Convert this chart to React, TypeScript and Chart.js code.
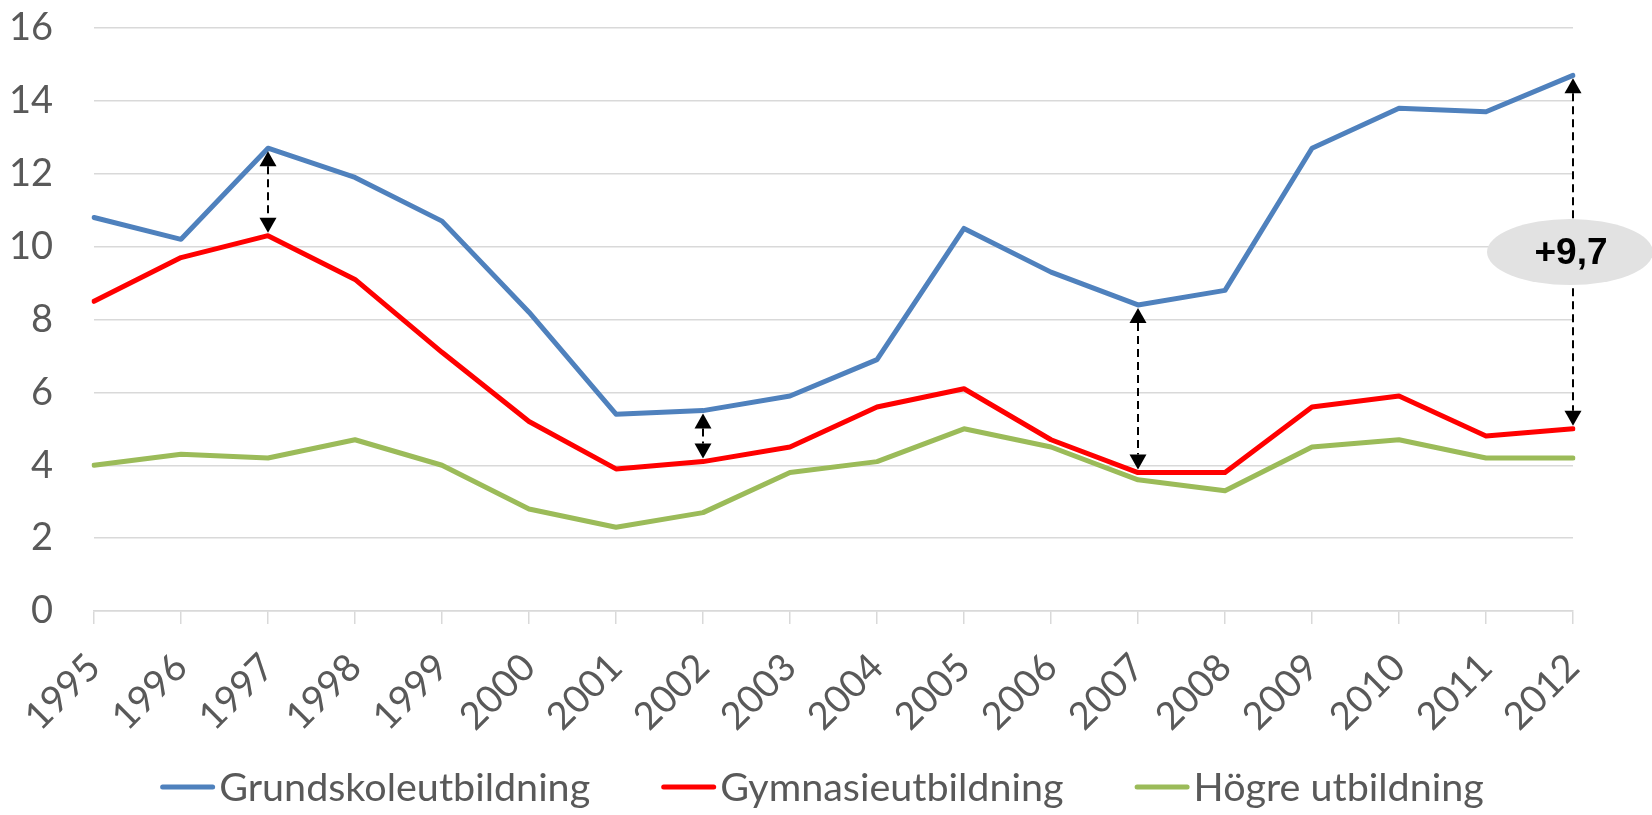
import React, { useEffect, useRef } from 'react';
import { Chart, registerables } from 'chart.js';

Chart.register(...registerables);

const years = ['1995', '1996', '1997', '1998', '1999', '2000', '2001', '2002', '2003', '2004', '2005', '2006', '2007', '2008', '2009', '2010', '2011', '2012'];
const grundskole = [10.8, 10.2, 12.7, 11.9, 10.7, 8.2, 5.4, 5.5, 5.9, 6.9, 10.5, 9.3, 8.4, 8.8, 12.7, 13.8, 13.7, 14.7];
const gymnasie = [8.5, 9.7, 10.3, 9.1, 7.1, 5.2, 3.9, 4.1, 4.5, 5.6, 6.1, 4.7, 3.8, 3.8, 5.6, 5.9, 4.8, 5.0];
const hogre = [4.0, 4.3, 4.2, 4.7, 4.0, 2.8, 2.3, 2.7, 3.8, 4.1, 5.0, 4.5, 3.6, 3.3, 4.5, 4.7, 4.2, 4.2];
const seriesNames = ['Grundskoleutbildning', 'Gymnasieutbildning', 'Högre utbildning'];
const seriesColors = ['#4F81BD', '#FF0000', '#9BBB59'];
const yTicks = [0, 2, 4, 6, 8, 10, 12, 14, 16];
const arrowYears = ['1997', '2002', '2007', '2012'];
const gapLabelYear = '2012';

const FONT = 'Lato, "Open Sans", sans-serif';
const TEXT_COLOR = '#595959';
const GRID_COLOR = '#D9D9D9';

const arrowsPlugin = {
  id: 'gapArrows',
  afterDatasetsDraw(chart: any) {
    const ctx = chart.ctx;
    const xs = chart.scales.x;
    const ys = chart.scales.y;
    const headH = 15;
    const headW = 8.5;
    ctx.save();
    arrowYears.forEach((yr) => {
      const i = years.indexOf(yr);
      const x = xs.getPixelForValue(i);
      const yTop = ys.getPixelForValue(grundskole[i]) + 3;
      const yBot = ys.getPixelForValue(gymnasie[i]) - 3;
      ctx.strokeStyle = '#000';
      ctx.lineWidth = 2;
      ctx.setLineDash([8, 5]);
      ctx.beginPath();
      ctx.moveTo(x, yTop + headH);
      ctx.lineTo(x, yBot - headH);
      ctx.stroke();
      ctx.setLineDash([]);
      ctx.fillStyle = '#000';
      ctx.beginPath();
      ctx.moveTo(x, yTop);
      ctx.lineTo(x - headW, yTop + headH);
      ctx.lineTo(x + headW, yTop + headH);
      ctx.closePath();
      ctx.fill();
      ctx.beginPath();
      ctx.moveTo(x, yBot);
      ctx.lineTo(x - headW, yBot - headH);
      ctx.lineTo(x + headW, yBot - headH);
      ctx.closePath();
      ctx.fill();
    });
    const j = years.indexOf(gapLabelYear);
    const gx = xs.getPixelForValue(j);
    const mid = (grundskole[j] + gymnasie[j]) / 2;
    const gy = ys.getPixelForValue(mid);
    ctx.fillStyle = '#E2E2E2';
    ctx.beginPath();
    ctx.ellipse(gx - 3, gy, 83, 33, 0, 0, Math.PI * 2);
    ctx.fill();
    const diff = grundskole[j] - gymnasie[j];
    const label = '+' + diff.toFixed(1).replace('.', ',');
    ctx.fillStyle = '#000';
    ctx.font = 'bold 37px "Liberation Sans", Arial, sans-serif';
    ctx.textAlign = 'center';
    ctx.textBaseline = 'middle';
    ctx.fillText(label, gx - 2, gy + 2);
    ctx.restore();
  },
};

const legendPlugin = {
  id: 'bottomLegend',
  afterDraw(chart: any) {
    const ctx = chart.ctx;
    ctx.save();
    ctx.font = '39.5px ' + FONT;
    const sample = 55;
    const gap = 4;
    const itemGap = 71;
    const widths = seriesNames.map((n) => ctx.measureText(n).width);
    const total = widths.reduce((a, b) => a + b, 0) + seriesNames.length * (sample + gap) + itemGap * (seriesNames.length - 1);
    let x = 822 - total / 2;
    const y = 787;
    seriesNames.forEach((name, k) => {
      ctx.strokeStyle = seriesColors[k];
      ctx.lineWidth = 5;
      ctx.lineCap = 'round';
      ctx.beginPath();
      ctx.moveTo(x + 2.5, y);
      ctx.lineTo(x + sample - 2.5, y);
      ctx.stroke();
      ctx.fillStyle = TEXT_COLOR;
      ctx.textAlign = 'left';
      ctx.textBaseline = 'middle';
      ctx.fillText(name, x + sample + gap, y + 1);
      x += sample + gap + widths[k] + itemGap;
    });
    ctx.restore();
  },
};

export default function App() {
  const canvasRef = useRef<HTMLCanvasElement | null>(null);

  useEffect(() => {
    let chart: Chart | null = null;
    let cancelled = false;
    const build = () => {
      if (cancelled || !canvasRef.current) return;
      const series = [grundskole, gymnasie, hogre];
      chart = new Chart(canvasRef.current, {
        type: 'line',
        data: {
          labels: years,
          datasets: series.map((d, k) => ({
            label: seriesNames[k],
            data: d,
            borderColor: seriesColors[k],
            backgroundColor: seriesColors[k],
            borderWidth: 5,
            pointRadius: 0,
            pointHoverRadius: 0,
            tension: 0,
            borderJoinStyle: 'round' as const,
            borderCapStyle: 'round' as const,
            fill: false,
          })),
        },
        options: {
          animation: false,
          responsive: true,
          maintainAspectRatio: false,
          layout: { padding: { top: 28, right: 79, left: 0, bottom: 0 } },
          plugins: {
            legend: { display: false },
            tooltip: { enabled: false },
            title: { display: false },
          },
          scales: {
            x: {
              offset: false,
              grid: {
                drawOnChartArea: false,
                drawTicks: true,
                tickLength: 13,
                color: GRID_COLOR,
                lineWidth: 1.5,
              },
              border: { display: true, color: GRID_COLOR, width: 1.5 },
              ticks: {
                autoSkip: false,
                minRotation: 45,
                maxRotation: 45,
                padding: 21,
                color: TEXT_COLOR,
                font: { family: FONT, size: 38 },
              },
              afterFit: (s: any) => {
                s.height = 204;
                s.paddingLeft = 0;
                s.paddingRight = 0;
              },
            },
            y: {
              min: 0,
              max: 16,
              grid: {
                color: GRID_COLOR,
                lineWidth: 1.5,
                drawTicks: false,
              },
              border: { display: false },
              ticks: {
                stepSize: 2,
                padding: 41,
                color: TEXT_COLOR,
                font: { family: FONT, size: 38 },
              },
              afterBuildTicks: (s: any) => {
                s.ticks = yTicks.map((v) => ({ value: v }));
              },
              afterFit: (s: any) => {
                s.width = 94;
                s.paddingTop = 0;
                s.paddingBottom = 0;
              },
            },
          },
        },
        plugins: [arrowsPlugin, legendPlugin],
      });
    };
    const fontsApi = (document as any).fonts;
    if (fontsApi && fontsApi.load) {
      Promise.all([
        fontsApi.load('38px Lato'),
        fontsApi.load('bold 37px "Liberation Sans"'),
      ]).then(build, build);
    } else {
      build();
    }
    return () => {
      cancelled = true;
      if (chart) chart.destroy();
    };
  }, []);

  return (
    <div style={{ position: 'fixed', left: 0, top: 0, width: '1652px', height: '815px', background: '#fff' }}>
      <canvas ref={canvasRef} />
    </div>
  );
}
